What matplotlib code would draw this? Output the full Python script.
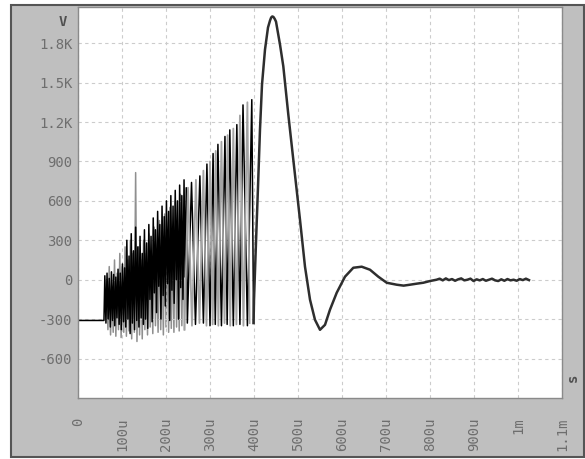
import matplotlib.pyplot as plt
from matplotlib.patches import Rectangle

# 示波器截图：时间单位 us，电压单位 V

# black trace: flat start, dense burst, then growing spikes
black_t = [0, 59,
           61, 63.5, 66, 68.5, 71, 73.5, 76, 78.5, 81, 83.5, 86, 88.5,
           91, 93.5, 96, 98.5, 101, 103.5, 106, 108.5, 111, 113.5,
           116, 118.5, 121, 123.5, 126, 128.5, 131, 133.5, 136, 138.5,
           141, 143.5, 146, 148.5, 151, 153.5, 156, 158.5, 161, 163.5,
           166, 168.5, 171, 173.5, 176, 178.5, 181, 183.5, 186, 188.5,
           191, 193.5, 196, 198.5, 201, 203.5, 206, 208.5, 211, 213.5,
           216, 218.5, 221, 223.5, 226, 228.5, 231, 233.5, 236, 238.5,
           241, 243.5, 246, 248.5,
           258, 267, 277, 285, 293, 300, 307, 312, 318, 326,
           334, 339, 345, 353, 361, 368, 375, 385, 395, 399]
black_v = [-310, -310,
           30, -330, 50, -300, 10, -360, 60, -310, 40, -350, 20, -290,
           80, -340, 50, -380, 120, -320, 90, -360, 300, -300,
           180, -410, 350, -330, 220, -380, 400, -310, 250, -360,
           330, -290, 200, -340, 380, -300, 280, -370, 420, -150,
           330, -320, 470, -100, 380, -250, 520, -50, 420, -300,
           560, -120, 480, -200, 600, -30, 520, -310, 640, -80,
           560, -180, 680, 0, 600, -300, 720, -60, 640, -150,
           760, 20, 700, -330,
           740, -340, 790, -330, 880, -350, 960, -340, 1030, -350,
           1090, -340, 1140, -350, 1180, -340, 1330, -350, 1370, -330]

# gray trace (second channel): dense part sits under the black one
gray_t = [62, 65, 68, 71, 74, 77, 80, 83, 86, 89, 92, 95, 98, 101, 104,
          107, 110, 113, 116, 119, 122, 125, 128, 131, 134, 137, 140, 143,
          146, 149, 152, 155, 158, 161, 164, 167, 170, 173, 176, 179, 182,
          185, 188, 191, 194, 197, 200, 203, 206, 209, 212, 215, 218, 221,
          224, 227, 230, 233, 236, 239, 242,
          250, 259, 268, 276, 285, 292, 300, 306, 313, 319,
          326, 333, 340, 346, 353, 360, 368, 376, 385, 390]
gray_v = [-200, 0, -380, 100, -420, -50, -400, 150, -430, 50,
          -380, 200, -440, 100, -400, 250, -430, 150, -390, 300,
          -450, 200, -400, 815, -470, 250, -420, 150, -450, 300,
          -380, 200, -420, 350, -360, 100, -410, 400, -350, 150,
          -400, 450, -380, 200, -420, 500, -360, 250, -400, 550,
          -370, 300, -400, 600, -360, 350, -390, 650, -350, 300, -380,
          700, -350, 760, -330, 830, -350, 900, -340, 980, -350,
          1050, -330, 1100, -350, 1150, -340, 1250, -350, 1350, -330]
n_dense = 61  # gray points before the separate spikes start

# the big pulse and the damped ringing after the burst
pulse_t = [399, 400, 404.5, 409.1, 413.6, 418.2, 425, 431.8, 436.4, 439,
           441.5, 444, 447, 450, 459.1, 466.6, 478, 489.3, 504.5, 515.9,
           527.3, 538.6, 550, 561.4, 572.7, 588, 606.8, 625.7, 644.8, 663.6,
           682.5, 701.6, 724.3, 740, 754.5, 770, 784.8, 800]
pulse_v = [-330, -152, 282, 708, 1142, 1485, 1751, 1919, 1972, 1995,
           2003, 2000, 1985, 1964, 1789, 1624, 1256, 914, 457, 99,
           -152, -305, -381, -343, -228, -99, 23, 91, 99, 76,
           23, -23, -38, -45, -38, -30, -23, -10]

# small noise on the settled tail
tail_t = [815, 822, 829, 836, 843, 850, 857, 864, 871, 878, 885, 892, 899,
          906, 913, 920, 927, 934, 941, 948, 955, 962, 969, 976, 983, 990,
          997, 1004, 1011, 1018, 1025]
tail_v = [0, 8, -5, 10, -3, 5, -8, 3, 10, -5, 0, 8, -10, 3, -5, 5,
          -8, 0, 8, -5, -10, 3, -8, 5, -5, 0, -8, 5, -3, 8, -3]

x_ticks = [0, 100, 200, 300, 400, 500, 600, 700, 800, 900, 1000, 1100]
x_labels = ['0', '100u', '200u', '300u', '400u', '500u', '600u', '700u',
            '800u', '900u', '1m', '1.1m']
y_ticks = [-600, -300, 0, 300, 600, 900, 1200, 1500, 1800]
y_labels = ['-600', '-300', '0', '300', '600', '900', '1.2K', '1.5K', '1.8K']

W, H = 585, 459
fig = plt.figure(figsize=(W / 100, H / 100), dpi=100)
fig.patch.set_facecolor('white')
# gray instrument panel with dark frame, behind the axes
fig.patches.append(Rectangle((11 / W, 2 / H), 573 / W, 452 / H,
                             transform=fig.transFigure, facecolor='#bfbfbf',
                             edgecolor='#555555', linewidth=1.5, zorder=-1))

ax = fig.add_axes([78 / W, 61 / H, 484 / W, 391 / H])
ax.set_facecolor('white')

ax.plot(gray_t[:n_dense], gray_v[:n_dense], color='#8f8f8f', lw=1.1, zorder=1)
ax.plot(black_t, black_v, color='#000000', lw=1.1, zorder=2)
ax.plot(gray_t[n_dense - 1:], gray_v[n_dense - 1:], color='#a4a4a4', lw=1.3,
        zorder=3)
ax.plot(pulse_t + tail_t, pulse_v + tail_v, color='#2e2e2e', lw=1.8, zorder=4)

ax.set_xlim(0, 1100)
ax.set_ylim(-900, 2075)
ax.set_xticks(x_ticks)
ax.set_xticklabels(x_labels, rotation=90, ha='center', va='top',
                   family='DejaVu Sans Mono')
ax.set_yticks(y_ticks)
ax.set_yticklabels(y_labels, family='DejaVu Sans Mono')
ax.tick_params(axis='both', length=0, labelsize=10, colors='#6e6e6e')
ax.tick_params(axis='x', pad=14)
ax.tick_params(axis='y', pad=4)
ax.grid(True, color='#cccccc', linestyle=(0, (3, 3)), lw=0.8)
for sp in ax.spines.values():
    sp.set_color('#8a8a8a')
    sp.set_linewidth(1)

fig.text(63 / W, 1 - 22 / H, 'V', ha='center', va='center', fontsize=10,
         color='#505050', weight='bold', family='DejaVu Sans Mono')
fig.text(573 / W, 1 - 378 / H, 's', ha='center', va='center', fontsize=10,
         color='#505050', weight='bold', rotation=90,
         family='DejaVu Sans Mono')

plt.savefig('out.png', dpi=100, facecolor=fig.get_facecolor())
